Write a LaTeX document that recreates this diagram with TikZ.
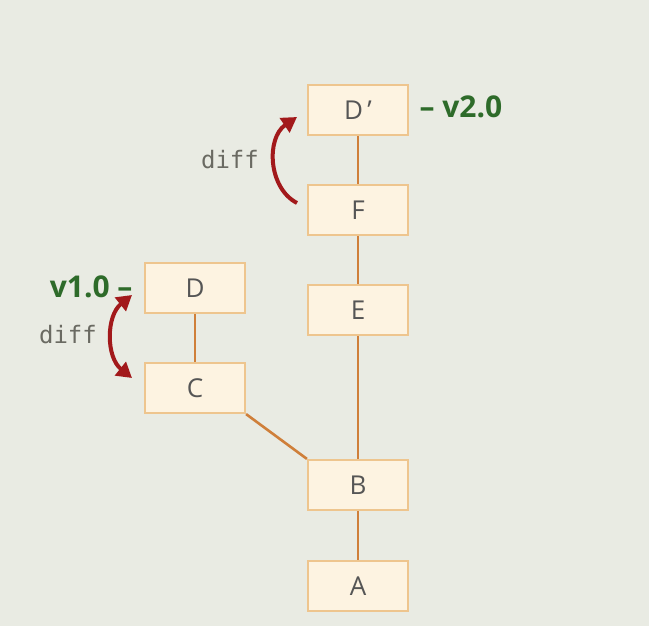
\documentclass[tikz,border=0pt]{standalone}
\usepackage{fontspec}
\setmainfont{Open Sans}
\newfontfamily\monof{DejaVu Sans Mono}
\usetikzlibrary{arrows.meta}
\definecolor{bgc}{HTML}{E9EBE3}
\definecolor{boxfill}{HTML}{FDF3E1}
\definecolor{boxline}{HTML}{EEC58E}
\definecolor{edgec}{HTML}{CF7F3A}
\definecolor{arrowc}{HTML}{A2191B}
\definecolor{tagc}{HTML}{2E6B2A}
\definecolor{diffc}{HTML}{6A6A62}
\definecolor{txtc}{HTML}{555555}
\begin{document}
\begin{tikzpicture}[x=1pt,y=-1pt,
  commit/.style={draw=boxline,line width=2.2pt,fill=boxfill,minimum width=100pt,minimum height=50pt,inner sep=0pt,font=\rmfamily\fontsize{26}{26}\selectfont,text=txtc},
  edge/.style={draw=edgec,line width=2.6pt},
  diffarrow/.style={draw=arrowc,line width=4pt},
  tag/.style={font=\rmfamily\bfseries\fontsize{30}{30}\selectfont,text=tagc},
  difflbl/.style={font=\monof\fontsize{24}{24}\selectfont,text=diffc}]
\fill[bgc] (0,0) rectangle (649,626);
\useasboundingbox (0,0) rectangle (649,626);
\node[commit] (Dp) at (358,110) {D\,’};
\node[commit] (F) at (358,210) {F};
\node[commit] (E) at (358,310) {E};
\node[commit] (B) at (358,485) {B};
\node[commit] (A) at (358,586) {A};
\node[commit] (D) at (195,288) {D};
\node[commit] (C) at (195,388) {C};
\draw[edge] (Dp) -- (F);
\draw[edge] (F) -- (E);
\draw[edge] (E) -- (B);
\draw[edge] (B) -- (A);
\draw[edge] (D) -- (C);
\draw[edge] (C.south east) -- (B.north west);
\coordinate (u1) at (297,203);
\coordinate (u2) at (297,117);
\draw[diffarrow,-{Triangle[length=15pt,width=17pt]}] (u1) .. controls (268,188) and (266,138) .. (u2);
\coordinate (l1) at (132,295);
\coordinate (l2) at (132,378);
\draw[diffarrow,{Triangle[length=15pt,width=17pt]}-{Triangle[length=15pt,width=17pt]}] (l1) .. controls (106,316) and (106,357) .. (l2);
\node[difflbl] (d1) at (230,160) {diff};
\node[difflbl] (d2) at (68,335) {diff};
\node[tag,anchor=west] (v2) at (416,107) {– v2.0};
\node[tag,anchor=east] (v1) at (136,287) {v1.0 –};
\end{tikzpicture}
\end{document}
